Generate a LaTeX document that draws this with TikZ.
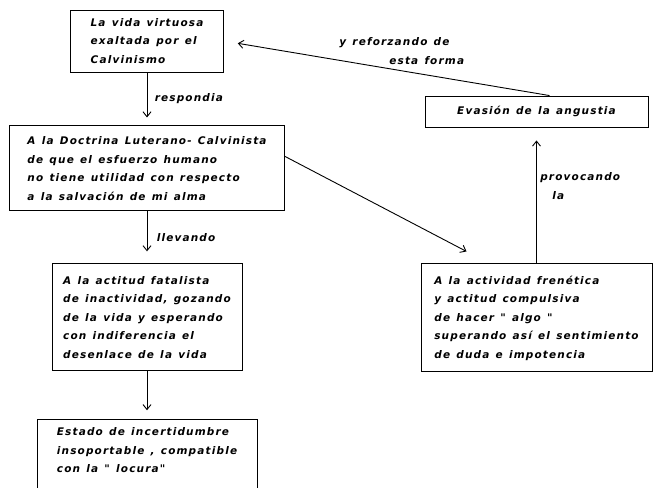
\documentclass[tikz,border=0pt]{standalone}
\usepackage{fontspec}
\newfontfamily\handfont[LetterSpace=11,WordSpace=1.3]{DejaVu Sans}
\usetikzlibrary{positioning,arrows.meta}

\begin{document}
\begin{tikzpicture}[x=1pt, y=-1pt,
		font=\handfont\bfseries\itshape\fontsize{10.5}{18.5}\selectfont,
		box/.style={draw, line width=0.9pt, align=left, inner sep=0pt},
		flow/.style={->, line width=0.9pt, shorten >=8pt},
		>={Straight Barb[length=5pt, width=8pt]}]
		\useasboundingbox (0,0) rectangle (655,487);
		% left column
		\node[box, minimum width=153pt, minimum height=62pt] (vida) at (147,41)
			{La vida virtuosa\\exaltada por el\\Calvinismo};
		\node[box, minimum width=275pt, minimum height=85pt, below=53pt of vida] (doctrina)
			{A la Doctrina Luterano- Calvinista\\de que el esfuerzo humano\\no tiene utilidad con respecto\\a la salvación de mi alma};
		\node[box, minimum width=190pt, minimum height=107pt, below=52pt of doctrina] (actitud)
			{A la actitud fatalista\\de inactividad, gozando\\de la vida y esperando\\con indiferencia el\\desenlace de la vida};
		\node[box, minimum width=220pt, inner ysep=8pt, text depth=40pt, below=48pt of actitud] (estado)
			{Estado de incertidumbre\\insoportable , compatible\\con la " locura"};
		% right column
		\node[box, minimum width=223pt, minimum height=31pt] (evasion) at (536.5,111.5)
			{Evasión de la angustia};
		\node[box, minimum width=231pt, minimum height=108pt, below=136pt of evasion] (frenetica)
			{A la actividad frenética\\y actitud compulsiva\\de hacer " algo "\\superando así el sentimiento\\de duda e impotencia};
		\draw[flow] (vida) -- (doctrina) node [midway, right, xshift=4pt] {respondia};
		\draw[flow, shorten >=12pt] (doctrina) -- (actitud) node [midway, right, xshift=6pt] {llevando};
		\draw[flow, shorten >=9pt] (actitud) -- (estado);
		\draw[flow, shorten >=0pt] ([yshift=12pt]doctrina.east) -- ([xshift=-70pt, yshift=12pt]frenetica.north);
		\draw[flow, shorten >=13pt] (frenetica) -- (evasion)
			node [pos=0.57, right, align=left] {provocando\\\hspace*{12pt}la};
		\draw[flow, shorten >=14pt] ([xshift=13pt]evasion.north) -- (vida.east)
			node [midway, above, xshift=15pt, align=left] {y reforzando de\\\hspace*{50pt}esta forma};
	\end{tikzpicture}
\end{document}
